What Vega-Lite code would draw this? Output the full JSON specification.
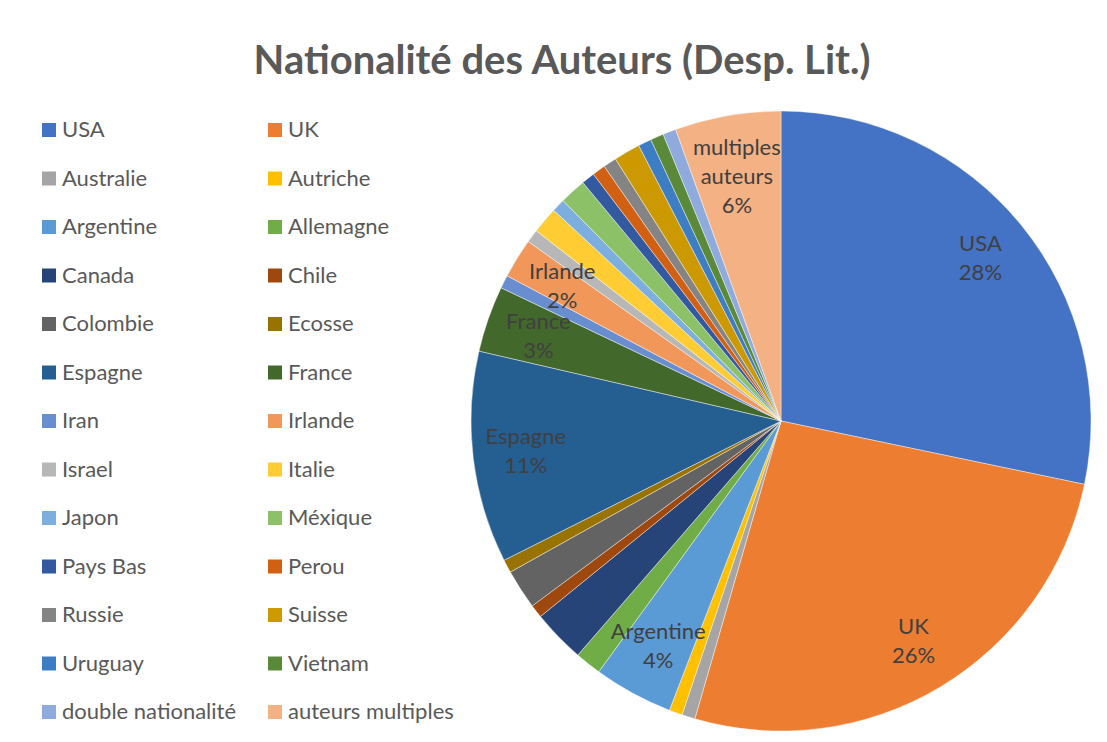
{
  "$schema": "https://vega.github.io/schema/vega-lite/v6.json",
  "width": 620,
  "height": 620,
  "autosize": {"type": "none"},
  "padding": {"left": 471, "top": 111, "right": 16, "bottom": 11},
  "background": "white",
  "config": {"view": {"stroke": null}},
  "title": {
    "text": "Nationalité des Auteurs (Desp. Lit.)",
    "font": "Lato",
    "fontSize": 40,
    "fontWeight": "bold",
    "color": "#595959",
    "anchor": "middle",
    "dx": -219,
    "offset": 28
  },
  "data": {
    "values": [
      {"rang": 1, "pays": "USA", "n": 41, "label": "USA\n28%"},
      {"rang": 2, "pays": "UK", "n": 38, "label": "UK\n26%"},
      {"rang": 3, "pays": "Australie", "n": 1, "label": ""},
      {"rang": 4, "pays": "Autriche", "n": 1, "label": ""},
      {"rang": 5, "pays": "Argentine", "n": 6, "label": "Argentine\n4%"},
      {"rang": 6, "pays": "Allemagne", "n": 2, "label": ""},
      {"rang": 7, "pays": "Canada", "n": 4, "label": ""},
      {"rang": 8, "pays": "Chile", "n": 1, "label": ""},
      {"rang": 9, "pays": "Colombie", "n": 3, "label": ""},
      {"rang": 10, "pays": "Ecosse", "n": 1, "label": ""},
      {"rang": 11, "pays": "Espagne", "n": 16, "label": "Espagne\n11%"},
      {"rang": 12, "pays": "France", "n": 5, "label": "France\n3%"},
      {"rang": 13, "pays": "Iran", "n": 1, "label": ""},
      {"rang": 14, "pays": "Irlande", "n": 3, "label": "Irlande\n2%"},
      {"rang": 15, "pays": "Israel", "n": 1, "label": ""},
      {"rang": 16, "pays": "Italie", "n": 2, "label": ""},
      {"rang": 17, "pays": "Japon", "n": 1, "label": ""},
      {"rang": 18, "pays": "Méxique", "n": 2, "label": ""},
      {"rang": 19, "pays": "Pays Bas", "n": 1, "label": ""},
      {"rang": 20, "pays": "Perou", "n": 1, "label": ""},
      {"rang": 21, "pays": "Russie", "n": 1, "label": ""},
      {"rang": 22, "pays": "Suisse", "n": 2, "label": ""},
      {"rang": 23, "pays": "Uruguay", "n": 1, "label": ""},
      {"rang": 24, "pays": "Vietnam", "n": 1, "label": ""},
      {"rang": 25, "pays": "double nationalité", "n": 1, "label": ""},
      {"rang": 26, "pays": "auteurs multiples", "n": 8, "label": "multiples\nauteurs\n6%"}
    ]
  },
  "encoding": {
    "theta": {"field": "n", "type": "quantitative", "stack": true},
    "order": {"field": "rang", "type": "quantitative"}
  },
  "layer": [
    {
      "mark": {"type": "arc", "outerRadius": 310, "stroke": "#ffffff", "strokeWidth": 0.6, "strokeOpacity": 0.7},
      "encoding": {
        "color": {
          "field": "pays",
          "type": "nominal",
          "sort": null,
          "scale": {
            "domain": ["USA", "UK", "Australie", "Autriche", "Argentine", "Allemagne", "Canada", "Chile", "Colombie", "Ecosse", "Espagne", "France", "Iran", "Irlande", "Israel", "Italie", "Japon", "Méxique", "Pays Bas", "Perou", "Russie", "Suisse", "Uruguay", "Vietnam", "double nationalité", "auteurs multiples"],
            "range": ["#4472C4", "#ED7D31", "#A5A5A5", "#FFC000", "#5B9BD5", "#70AD47", "#264478", "#9E480E", "#636363", "#997300", "#255E91", "#43682B", "#698ED0", "#F1975A", "#B7B7B7", "#FFCD33", "#7CAFDD", "#8CC168", "#335AA1", "#D26012", "#848484", "#CC9A00", "#3C7DC4", "#5A8A39", "#8FAADC", "#F4B183"]
          },
          "legend": {
            "orient": "none",
            "direction": "horizontal",
            "legendX": -433,
            "legendY": 8,
            "columns": 2,
            "title": null,
            "padding": 0,
            "symbolType": "square",
            "symbolSize": 196,
            "symbolStrokeWidth": 0,
            "labelFont": "Lato",
            "labelFontSize": 22,
            "labelColor": "#595959",
            "labelOffset": 2,
            "labelLimit": 400,
            "rowPadding": 26.5,
            "columnPadding": 27
          }
        }
      }
    },
    {
      "mark": {"type": "text", "radius": 257, "lineBreak": "\n", "font": "Lato", "fontSize": 22, "color": "#404040", "lineHeight": 29, "baseline": "middle", "dy": -14.5},
      "encoding": {
        "detail": {"field": "pays", "type": "nominal"},
        "text": {
          "condition": {"test": "datum.pays === 'auteurs multiples'", "value": ""},
          "field": "label", "type": "nominal"
        }
      }
    },
    {
      "mark": {"type": "text", "radius": 256, "lineBreak": "\n", "font": "Lato", "fontSize": 22, "color": "#404040", "lineHeight": 29, "baseline": "middle", "dy": -21},
      "encoding": {
        "detail": {"field": "pays", "type": "nominal"},
        "text": {
          "condition": {"test": "datum.pays === 'auteurs multiples'", "field": "label", "type": "nominal"},
          "value": ""
        }
      }
    }
  ]
}
